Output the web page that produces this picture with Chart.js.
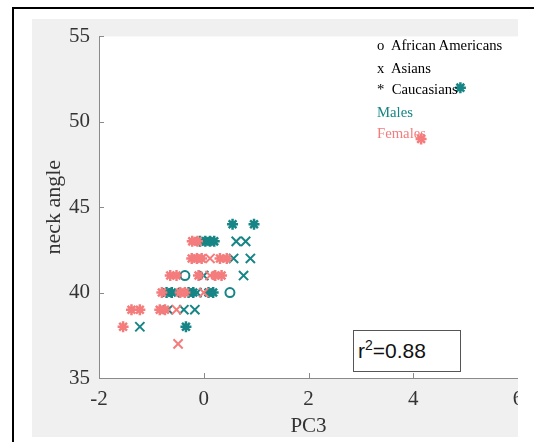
<!DOCTYPE html>
<html>
<head>
<meta charset="utf-8">
<title>neck angle vs PC3</title>
<script src="https://cdn.jsdelivr.net/npm/chart.js@4.4.1/dist/chart.umd.min.js"></script>
<style>
  html, body {
    margin: 0;
    padding: 0;
    width: 534px;
    height: 442px;
    overflow: hidden;
    background: #ffffff;
  }
  .frame-top { position: absolute; left: 12px; top: 7px; width: 522px; height: 2px; background: #000; }
  .frame-left { position: absolute; left: 12px; top: 7px; width: 2px; height: 435px; background: #000; }
  .panel {
    position: absolute;
    left: 32px;
    top: 19px;
    width: 486px;
    height: 418px;
    overflow: hidden;
    background: #f0f0f0;
  }
  .panel canvas { display: block; }
  .note {
    position: absolute;
    left: 377px;
    font-family: "Liberation Serif", "Times New Roman", serif;
    font-size: 14.7px;
    line-height: 16px;
    color: #000;
    white-space: pre;
  }
  .rbox {
    position: absolute;
    left: 353px;
    top: 330px;
    width: 102px;
    height: 40px;
    border: 1.5px solid #555;
    background: #fff;
    font-family: "Liberation Sans", Arial, sans-serif;
    font-size: 21px;
    line-height: 40px;
    color: #111;
    padding-left: 4px;
    box-sizing: content-box;
  }
  .rbox .sup { position: relative; top: -8px; font-size: 14px; }
</style>
</head>
<body>
<div class="frame-top"></div>
<div class="frame-left"></div>
<div class="panel"><canvas id="chart" width="540" height="418" style="width:540px;height:418px"></canvas></div>

<div class="note" style="top:37px">o  African Americans</div>
<div class="note" style="top:60px">x  Asians</div>
<div class="note" style="top:81px">*  Caucasians</div>
<div class="note" style="top:104px;color:#178585">Males</div>
<div class="note" style="top:125px;color:#f47c7c">Females</div>
<div class="rbox">r<span class="sup">2</span>=0.88</div>

<script>
/* =========================
   DATA
   ========================= */
const xTicks = [-2, 0, 2, 4, 6];
const yTicks = [35, 40, 45, 50, 55];

// males (teal)
const maleAfrAmX = [-0.36, 0.5];
const maleAfrAmY = [41, 40];
const maleAsianX = [0.62, 0.8, 0.57, 0.89, 0.0, 0.76, -0.55, -0.13, -0.68, -0.38, -0.17, -1.22];
const maleAsianY = [43, 43, 42, 42, 41, 41, 40, 40, 39, 39, 39, 38];
const maleCaucX = [0.55, 0.96, -0.07, 0.03, 0.12, 0.2, -0.71, -0.61, -0.29, -0.2, 0.09, 0.18, -0.34, 4.9];
const maleCaucY = [44, 44, 43, 43, 43, 43, 40, 40, 40, 40, 40, 40, 38, 52];

// females (pink)
const femAsianX = [0.12, 0.12, 0.0, -0.52, -0.49];
const femAsianY = [42, 41, 40, 39, 37];
const femCaucX = [-0.22, -0.12, -0.23, -0.13, -0.04, 0.31, 0.44, -0.64, -0.52, -0.1, 0.22, 0.34, -0.8, -0.45, -0.36, -1.38, -1.22, -0.84, -0.74, -1.54, 4.15];
const femCaucY = [43, 43, 42, 42, 42, 42, 42, 41, 41, 41, 41, 41, 40, 40, 40, 39, 39, 39, 39, 38, 49];

const TEAL = "#178585";
const PINK = "#f47c7c";
const AXIS = "#8a8a8a";
const SERIF = "'Liberation Serif', 'Times New Roman', serif";

function pts(xs, ys) {
  return xs.map((x, i) => ({ x, y: ys[i] }));
}

// marker radius per style, roughly the size of the MATLAB markers
const markerRadius = { circle: 4.5, crossRot: 6.5, star: 5.5 };

function markerSet(label, xs, ys, color, style) {
  return {
    label,
    data: pts(xs, ys),
    pointStyle: style,
    pointRadius: markerRadius[style],
    pointBorderWidth: style === "star" ? 2.5 : 2,
    borderColor: color,
    backgroundColor: style === "circle" ? "rgba(0,0,0,0)" : color,
    showLine: false,
  };
}

/* =========================
   PLUGIN: white axes box + inward ticks
   ========================= */
const matlabAxes = {
  id: "matlabAxes",
  beforeDraw(chart) {
    const { ctx, chartArea: a } = chart;
    ctx.save();
    ctx.fillStyle = "#ffffff";
    ctx.fillRect(a.left, a.top, a.right - a.left, a.bottom - a.top);
    ctx.restore();
  },
  afterDraw(chart) {
    const { ctx, chartArea: a, scales } = chart;
    const len = 5;
    ctx.save();
    ctx.strokeStyle = AXIS;
    ctx.lineWidth = 1;
    ctx.beginPath();
    scales.x.ticks.forEach((t) => {
      const px = Math.round(scales.x.getPixelForValue(t.value)) + 0.5;
      ctx.moveTo(px, a.bottom);
      ctx.lineTo(px, a.bottom - len);
    });
    scales.y.ticks.forEach((t) => {
      const py = Math.round(scales.y.getPixelForValue(t.value)) + 0.5;
      ctx.moveTo(a.left, py);
      ctx.lineTo(a.left + len, py);
    });
    ctx.stroke();
    ctx.restore();
  },
};

/* =========================
   CHART
   ========================= */
const tickFont = { family: SERIF, size: 21, lineHeight: 0.8 };

new Chart(document.getElementById("chart"), {
  type: "scatter",
  data: {
    datasets: [
      markerSet("Females Caucasians", femCaucX, femCaucY, PINK, "star"),
      markerSet("Females Asians", femAsianX, femAsianY, PINK, "crossRot"),
      markerSet("Males African Americans", maleAfrAmX, maleAfrAmY, TEAL, "circle"),
      markerSet("Males Asians", maleAsianX, maleAsianY, TEAL, "crossRot"),
      markerSet("Males Caucasians", maleCaucX, maleCaucY, TEAL, "star"),
    ],
  },
  options: {
    responsive: false,
    animation: false,
    devicePixelRatio: 1,
    layout: { padding: { top: 16, right: 54, bottom: 0, left: 0 } },
    plugins: {
      legend: { display: false },
      tooltip: { enabled: false },
    },
    scales: {
      x: {
        type: "linear",
        min: xTicks[0],
        max: xTicks[xTicks.length - 1],
        afterBuildTicks: (s) => { s.ticks = xTicks.map((v) => ({ value: v })); },
        afterFit: (s) => { s.height = 59; },
        grid: { display: true, drawOnChartArea: false, drawTicks: false },
        border: { display: true, color: AXIS, width: 1 },
        ticks: { color: "#333", font: { family: SERIF, size: 21 }, padding: 9, maxRotation: 0 },
        title: {
          display: true,
          text: "PC3",
          color: "#333",
          font: { family: SERIF, size: 21, lineHeight: 1 },
          padding: { top: 0, bottom: 0 },
        },
      },
      y: {
        type: "linear",
        min: yTicks[0],
        max: yTicks[yTicks.length - 1],
        afterBuildTicks: (s) => { s.ticks = yTicks.map((v) => ({ value: v })); },
        afterFit: (s) => { s.width = 67; },
        grid: { display: true, drawOnChartArea: false, drawTicks: false },
        border: { display: true, color: AXIS, width: 1 },
        ticks: { color: "#333", font: tickFont, padding: 9 },
        title: {
          display: true,
          text: "neck angle",
          color: "#333",
          font: { family: SERIF, size: 22, lineHeight: 1.2 },
          padding: { top: 9, bottom: 0 },
        },
      },
    },
  },
  plugins: [matlabAxes],
});
</script>
</body>
</html>
